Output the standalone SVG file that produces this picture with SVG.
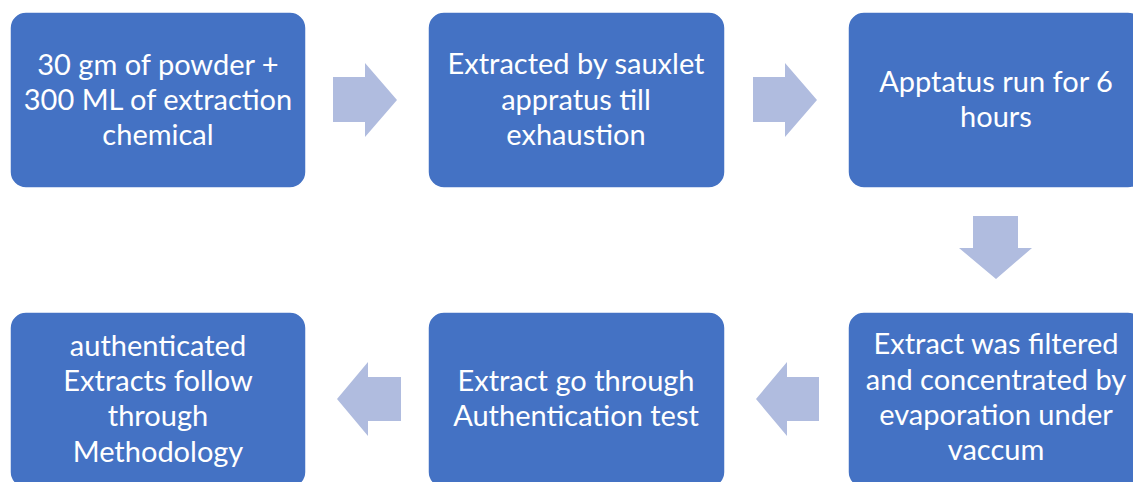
<svg xmlns="http://www.w3.org/2000/svg" width="1133" height="482" viewBox="0 0 1133 482">
<style>
.box{fill:#4472C4;stroke:#FFFFFF;stroke-width:1.5}
.arr{fill:#B0BCDF}
.t{font-family:Lato,"Open Sans","Liberation Sans",sans-serif;font-size:29px;fill:#FFFFFF;text-anchor:middle}
</style>
<rect width="1133" height="482" fill="#FFFFFF"/>
<g id="connectors">
<polygon class="arr" points="333,77 365,77 365,63 397,100 365,137 365,122 333,122"/>
<polygon class="arr" points="753,77 785,77 785,63 817,100 785,137 785,122 753,122"/>
<polygon class="arr" points="973,216 1018,216 1018,248 1032,248 996,279 959,248 973,248"/>
<polygon class="arr" points="819,377 787,377 787,362 756,399 787,436 787,421 819,421"/>
<polygon class="arr" points="401,377 368,377 368,362 337,399 368,436 368,421 401,421"/>
</g>
<g id="n1">
<rect class="box" x="10" y="12" width="296" height="176" rx="16"/>
<text class="t"><tspan x="158" y="75">30 gm of powder +</tspan><tspan x="158" y="110">300 ML of extraction</tspan><tspan x="158" y="145">chemical</tspan></text>
</g>
<g id="n2">
<rect class="box" x="428" y="12" width="297" height="176" rx="16"/>
<text class="t"><tspan x="576" y="74">Extracted by sauxlet</tspan><tspan x="576" y="110">appratus till</tspan><tspan x="576" y="145">exhaustion</tspan></text>
</g>
<g id="n3">
<rect class="box" x="848" y="12" width="296" height="176" rx="16"/>
<text class="t"><tspan x="996" y="92">Apptatus run for 6</tspan><tspan x="996" y="127">hours</tspan></text>
</g>
<g id="n4">
<rect class="box" x="848" y="312" width="296" height="176" rx="16"/>
<text class="t"><tspan x="996" y="354">Extract was filtered</tspan><tspan x="996" y="390">and concentrated by</tspan><tspan x="996" y="425">evaporation under</tspan><tspan x="996" y="460">vaccum</tspan></text>
</g>
<g id="n5">
<rect class="box" x="428" y="312" width="297" height="176" rx="16"/>
<text class="t"><tspan x="576" y="391">Extract go through</tspan><tspan x="576" y="426">Authentication test</tspan></text>
</g>
<g id="n6">
<rect class="box" x="10" y="312" width="296" height="176" rx="16"/>
<text class="t"><tspan x="158" y="356">authenticated</tspan><tspan x="158" y="391">Extracts follow</tspan><tspan x="158" y="426">through</tspan><tspan x="158" y="462">Methodology</tspan></text>
</g>
</svg>
